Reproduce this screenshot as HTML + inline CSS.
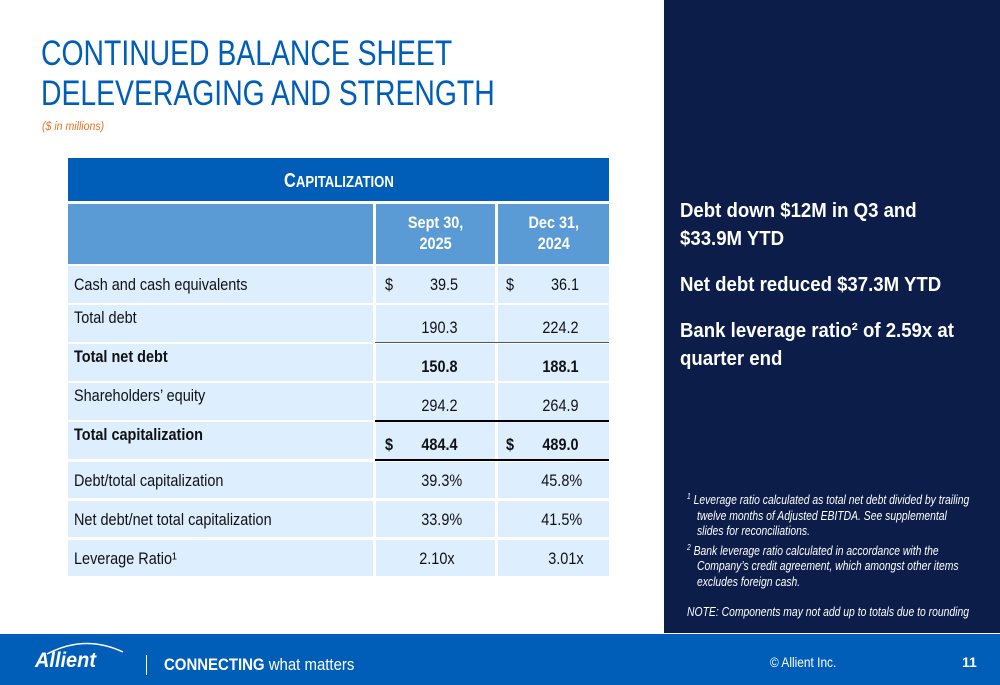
<!DOCTYPE html>
<html><head><meta charset="utf-8"><style>
*{margin:0;padding:0;box-sizing:border-box}
body{width:1000px;height:685px;position:relative;overflow:hidden;background:#fff;font-family:"Liberation Sans",sans-serif;}
.a{position:absolute}
.cell{position:absolute;background:#ddeeff;}
.lbl{font-size:17px;color:#111;line-height:1;transform:scaleX(.85);transform-origin:left top;white-space:nowrap}
.num{font-size:17px;color:#111;line-height:1;text-align:right;transform:scaleX(.85);transform-origin:right top;white-space:nowrap}
.b{font-weight:bold}
</style></head><body>
<div class="a" style="left:41px;top:34px;font-size:35px;line-height:40px;color:#005eb8;transform:scaleX(.81);transform-origin:left top;white-space:nowrap">CONTINUED BALANCE SHEET<br>DELEVERAGING AND STRENGTH</div>
<div class="a" style="left:42px;top:119px;font-size:12px;font-style:italic;color:#e8731f;transform:scaleX(.88);transform-origin:left top">($ in millions)</div>

<div>
<div class="a" style="left:68px;top:158px;width:541px;height:43px;background:#005eb8;color:#fff;font-weight:bold;font-size:20px;line-height:46px;text-align:center;"><span style="display:inline-block;transform:scaleX(.82)">C<span style="font-size:16px">APITALIZATION</span></span></div>
<div class="a" style="left:68px;top:204px;width:305px;height:60px;background:#5b9bd5"></div>
<div class="a" style="left:376px;top:204px;width:119px;height:60px;background:#5b9bd5;color:#fff;font-weight:bold;font-size:17px;line-height:21px;text-align:center;padding-top:8px"><span style="display:inline-block;transform:scaleX(.85)">Sept 30,<br>2025</span></div>
<div class="a" style="left:498px;top:204px;width:111px;height:60px;background:#5b9bd5;color:#fff;font-weight:bold;font-size:17px;line-height:21px;text-align:center;padding-top:8px"><span style="display:inline-block;transform:scaleX(.85)">Dec 31,<br>2024</span></div>
<div id="rows"></div>
</div>

<div class="a" style="left:664px;top:0;width:336px;height:633px;background:#0c1d4a;"></div>
<div class="a" style="left:680px;top:197px;width:315px;color:#fff;font-weight:bold;font-size:20px;line-height:28px;transform:scaleX(.93);transform-origin:left top">
<div style="width:270px">Debt down $12M in Q3 and $33.9M YTD</div>
<div style="margin-top:18px">Net debt reduced $37.3M YTD</div>
<div style="margin-top:18px;width:300px">Bank leverage ratio² of 2.59x at quarter end</div>
</div>
<div class="a" style="left:687px;top:489px;width:345px;color:#fff;font-style:italic;font-size:12.5px;line-height:15.5px;transform:scaleX(.83);transform-origin:left top">
<div style="padding-left:12px;text-indent:-12px"><sup style="font-size:8px">1</sup> Leverage ratio calculated as total net debt divided by trailing twelve months of Adjusted EBITDA. See supplemental slides for reconciliations.</div>
<div style="padding-left:12px;text-indent:-12px;width:330px"><sup style="font-size:8px">2</sup> Bank leverage ratio calculated in accordance with the Company’s credit agreement, which amongst other items excludes foreign cash.</div>
<div style="margin-top:15px;white-space:nowrap">NOTE: Components may not add up to totals due to rounding</div>
</div>

<div class="a" style="left:0;top:634px;width:1000px;height:51px;background:#005eb8;color:#fff;">
<div class="a" style="left:35px;top:15px;font-weight:bold;font-style:italic;font-size:21px;transform:scaleX(.95);transform-origin:left top">Allient</div>
<svg class="a" style="left:45px;top:6px" width="80" height="16"><path d="M2 14 Q40 -6 78 12" stroke="#fff" stroke-width="1.5" fill="none"/></svg>
<div class="a" style="left:146px;top:21px;width:1px;height:20px;background:#fff"></div>
<div class="a" style="left:164px;top:21px;font-size:17px;transform:scaleX(.88);transform-origin:left top;white-space:nowrap"><b>CONNECTING</b> what matters</div>
<div class="a" style="left:770px;top:20px;font-size:14px;transform:scaleX(.85);transform-origin:left top;white-space:nowrap">© Allient Inc.</div>
<div class="a" style="left:962px;top:20px;font-size:14px;font-weight:bold;">11</div>
</div>

<script>
const labels=["Cash and cash equivalents","Total debt","Total net debt","Shareholders’ equity","Total capitalization","Debt/total capitalization","Net debt/net total capitalization","Leverage Ratio¹"];
const sept=["39.5","190.3","150.8","294.2","484.4","39.3%","33.9%","2.10x"];
const dec=["36.1","224.2","188.1","264.9","489.0","45.8%","41.5%","3.01x"];
const bold=[false,false,true,false,true,false,false,false];
const dollar=[true,false,false,false,true,false,false,false];
const rows=document.getElementById('rows');
const top0=266,pitch=39.1,h=36.5;
labels.forEach((l,i)=>{
  const y=top0+i*pitch;
  const lowLbl=(i>=1&&i<=4)?-6:0;
  const numOff=(i>=1&&i<=4)?4:0;
  const mk=(x,w,nm)=>{const d=document.createElement('div');d.className='cell';d.style.left=x+'px';d.style.top=y+'px';d.style.width=w+'px';d.style.height=h+'px';
    
    
    rows.appendChild(d);return d;};
  const c0=mk(68,305,'row-label-cell');
  c0.innerHTML='<div class="a lbl'+(bold[i]?' b':'')+'" style="left:6px;top:'+(10+lowLbl)+'px">'+l+'</div>';
  const c1=mk(376,119,'sept-2025-cell');
  const c2=mk(498,111,'dec-2024-cell');
  const isPct=i>=5;
  const rr1=isPct?(i==7?40:33):37, rr2=isPct?(i==7?25:27):30;
  c1.innerHTML=(dollar[i]?'<div class="a lbl'+(bold[i]?' b':'')+'" style="left:9px;top:'+(10+numOff)+'px">$</div>':'')+'<div class="a num'+(bold[i]?' b':'')+'" style="right:'+rr1+'px;top:'+(10+numOff)+'px">'+sept[i]+'</div>';
  c2.innerHTML=(dollar[i]?'<div class="a lbl'+(bold[i]?' b':'')+'" style="left:8px;top:'+(10+numOff)+'px">$</div>':'')+'<div class="a num'+(bold[i]?' b':'')+'" style="right:'+rr2+'px;top:'+(10+numOff)+'px">'+dec[i]+'</div>';
});
function line(y,w,c,nm){const d=document.createElement('div');d.className='a';d.style.cssText='left:375px;top:'+y+'px;width:234px;height:'+w+'px;background:'+c;
  
  
  rows.appendChild(d);}
line(top0+2*pitch-2.5,1.5,'#555','subtotal-rule');
line(top0+4*pitch-2.5,2,'#000','total-rule-top');
line(top0+5*pitch-2.5,2,'#000','total-rule-bottom');
</script>
</body></html>
